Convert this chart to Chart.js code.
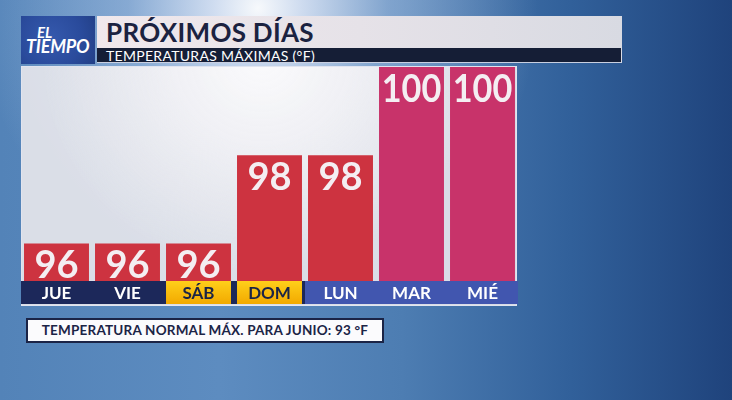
<!DOCTYPE html>
<html>
<head>
<meta charset="utf-8">
<script src="https://cdn.jsdelivr.net/npm/chart.js@4"></script>
<style>
  html, body { margin: 0; padding: 0; }
  body {
    width: 732px; height: 400px; overflow: hidden; position: relative;
    font-family: Lato, "Open Sans", sans-serif;
    background:
      radial-gradient(circle at 258px 8px, rgba(255,255,255,0.95) 0px, rgba(235,240,252,0.8) 45px, rgba(190,210,238,0.45) 130px, rgba(150,180,220,0) 280px),
      linear-gradient(90deg, #5383b8 0%, #5d8cc0 30%, #4d7db2 55%, #31609a 78%, #1f437c 100%);
  }
  #logo {
    position: absolute; left: 21px; top: 16px; width: 74px; height: 48px;
    background: radial-gradient(circle at 40% 45%, #3559ad 0%, #2a4b9c 60%, #223f86 100%);
    color: #fff; font-style: italic; font-weight: 700;
  }
  #logo .el { position: absolute; left: 16px; top: 9px; font-size: 15px; line-height: 15px; }
  #logo .tiempo { position: absolute; left: 5px; top: 21px; font-size: 18px; line-height: 18px; letter-spacing: -0.2px; }
  #titulo {
    position: absolute; left: 97px; top: 16px; width: 525px; height: 32px;
    background: linear-gradient(90deg, #f0e8ec 0%, #e6e2e8 50%, #d8dae2 100%);
    color: #1b2240; font-weight: 700; font-size: 26px; line-height: 33px;
    padding-left: 9px; box-sizing: border-box; letter-spacing: 0.3px;
  }
  #subtitulo {
    position: absolute; left: 97px; top: 48px; width: 525px; height: 15px;
    background: #151e36; color: #fff; font-size: 14px; line-height: 15px;
    padding-left: 9px; box-sizing: border-box; font-weight: 400; letter-spacing: 0.3px;
    border-right: 1px solid #d8dbe6; border-bottom: 1px solid #c9cfe0;
  }
  #panel {
    position: absolute; left: 21px; top: 66px; width: 496px; height: 240px;
    box-sizing: border-box; border: 1px solid rgba(225,228,240,0.9);
    background:
      radial-gradient(ellipse at 240px -10px, rgba(252,252,253,0.95) 0px, rgba(242,242,246,0.9) 90px, rgba(226,227,234,0) 220px),
      rgba(226,227,234,0.94);
  }
  #wrap { position: absolute; left: 21px; top: 66px; width: 497px; height: 240px; }
  #pie {
    position: absolute; left: 26px; top: 318px; width: 358px; height: 25px;
    box-sizing: border-box; border: 2px solid #1b2446; background: #fbfbfd;
    color: #1b2446; font-weight: 700; font-size: 13.5px; line-height: 21px;
    text-align: center; letter-spacing: 0.2px;
  }
</style>
</head>
<body>
<div id="logo"><span class="el">EL</span><span class="tiempo">TIEMPO</span></div>
<div id="titulo">PRÓXIMOS DÍAS</div>
<div id="subtitulo">TEMPERATURAS MÁXIMAS (°F)</div>
<div id="panel"></div>
<div id="wrap"><canvas id="chart"></canvas></div>
<div id="pie"></div>
<script>
const dias = ["JUE", "VIE", "SÁB", "DOM", "LUN", "MAR", "MIÉ"];
const maximas = [96, 96, 96, 98, 98, 100, 100];
const finDeSemana = [false, false, true, true, false, false, false];
const normalMes = "JUNIO";
const normalMax = 93;

// colores
const rojo = "#cd3340";
const magenta = "#c8336a";
const franja = ["#1c285a", "#1c285a", "#1c285a", "#1c285a", "#4156af", "#4156af", "#4156af"];

document.getElementById("pie").textContent =
    `TEMPERATURA NORMAL MÁX. PARA ${normalMes}: ${normalMax} °F`;

const etiquetas = {
    id: "etiquetas",
    afterDatasetsDraw(chart) {
        const { ctx, chartArea, scales: { x } } = chart;
        const meta = chart.getDatasetMeta(0);
        const slot = x.width / dias.length;
        const top = chartArea.bottom;
        const h = 23;
        ctx.save();
        // franja de dias
        dias.forEach((d, i) => {
            const cx = x.getPixelForValue(i);
            ctx.fillStyle = franja[i];
            ctx.fillRect(cx - slot / 2, top, slot + 0.5, h);
        });
        dias.forEach((d, i) => {
            const bar = meta.data[i];
            if (finDeSemana[i]) {
                const g = ctx.createLinearGradient(0, top, 0, top + h);
                g.addColorStop(0, "#ffcf1a");
                g.addColorStop(1, "#f2a900");
                ctx.fillStyle = g;
                ctx.fillRect(bar.x - bar.width / 2, top, bar.width, h);
            }
            ctx.fillStyle = finDeSemana[i] ? "#1b2446" : "#ffffff";
            ctx.font = "700 17px Lato, sans-serif";
            ctx.textAlign = "center";
            ctx.textBaseline = "middle";
            ctx.fillText(d, bar.x, top + h / 2 + 1);
        });
        // valores encima de las barras
        meta.data.forEach((bar, i) => {
            ctx.fillStyle = "#f4eef2";
            ctx.font = "700 38px Lato, sans-serif";
            ctx.textAlign = "center";
            ctx.textBaseline = "alphabetic";
            const t = String(maximas[i]);
            ctx.save();
            ctx.translate(bar.x, bar.y + 35);
            if (t.length > 2) ctx.scale(0.9, 1);
            ctx.fillText(t, 0, 0);
            ctx.restore();
        });
        ctx.restore();
    }
};

new Chart(document.getElementById("chart"), {
    type: "bar",
    data: {
        labels: dias,
        datasets: [{
            data: maximas,
            backgroundColor: maximas.map(v => v >= 100 ? magenta : rojo),
            borderWidth: 0,
            barPercentage: 0.915,
            categoryPercentage: 1
        }]
    },
    options: {
        responsive: true,
        maintainAspectRatio: false,
        animation: false,
        layout: { padding: { top: 1, bottom: 25, left: 0, right: 0 } },
        plugins: { legend: { display: false }, tooltip: { enabled: false } },
        scales: {
            x: { display: false },
            y: { display: false, min: 95.15, max: 100 }
        }
    },
    plugins: [etiquetas]
});
</script>
</body>
</html>
